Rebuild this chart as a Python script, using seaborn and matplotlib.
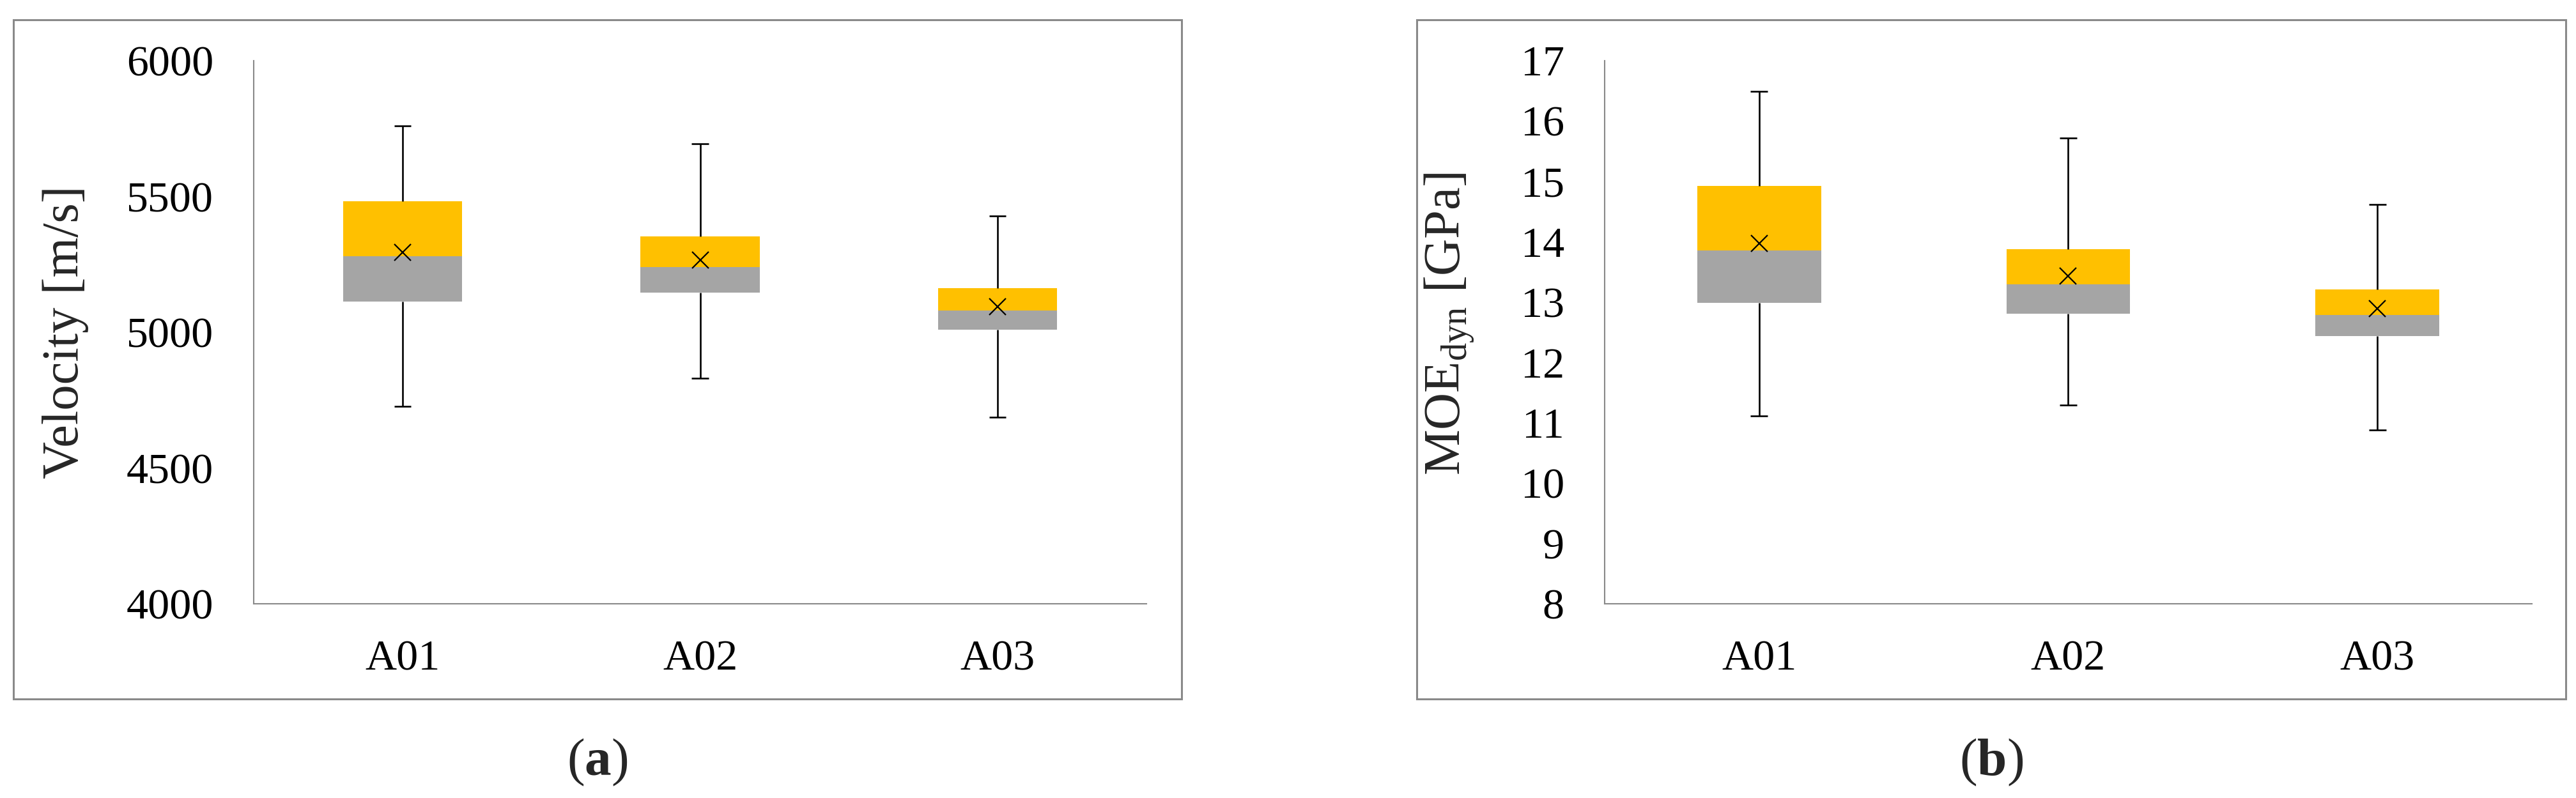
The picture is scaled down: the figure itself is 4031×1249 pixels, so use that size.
import numpy as np
import matplotlib
matplotlib.use("Agg")
import matplotlib.pyplot as plt
from matplotlib.patches import Rectangle
import seaborn as sns

# data
groups = ["A01", "A02", "A03"]

vel_min = [4727, 4830, 4686]
vel_q1 = [5113, 5147, 5010]
vel_med = [5280, 5241, 5080]
vel_q3 = [5482, 5353, 5162]
vel_max = [5760, 5694, 5428]
vel_mean = [5295, 5265, 5095]

moe_min = [11.11, 11.29, 10.88]
moe_q1 = [12.99, 12.81, 12.44]
moe_med = [13.86, 13.29, 12.79]
moe_q3 = [14.93, 13.88, 13.21]
moe_max = [16.49, 15.72, 14.62]
moe_mean = [13.97, 13.43, 12.89]

gold = "#FFC000"
grey = "#A5A5A5"
axis_grey = "#898989"

sns.set_style("white")
plt.rcParams["font.family"] = ["Liberation Serif", "DejaVu Serif"]
plt.rcParams["mathtext.fontset"] = "custom"
plt.rcParams["mathtext.rm"] = "Liberation Serif"
plt.rcParams["mathtext.it"] = "Liberation Serif:italic"
plt.rcParams["mathtext.bf"] = "Liberation Serif:bold"

fig = plt.figure(figsize=(40.31, 12.49), dpi=100)
fig.patch.set_facecolor("white")

# outer chart-area frames (Excel style)
for x0, w in [(0.00521, 0.45349), (0.55, 0.44604)]:
    fig.add_artist(Rectangle((x0, 0.1241), w, 0.85108, transform=fig.transFigure,
                             fill=False, edgecolor=axis_grey, linewidth=2.2))

ax_a = fig.add_axes([0.09849, 0.24339, 0.34657, 0.68055])
ax_b = fig.add_axes([0.62292, 0.24339, 0.35996, 0.68055])


def box_panel(ax, lo, q1, med, q3, hi, mean):
    q1 = np.array(q1); med = np.array(med); q3 = np.array(q3)
    # lower part of box (Q1 -> median) and upper part (median -> Q3)
    sns.barplot(x=groups, y=med - q1, bottom=q1, color=grey, saturation=1,
                width=0.4, errorbar=None, linewidth=0, ax=ax)
    sns.barplot(x=groups, y=q3 - med, bottom=med, color=gold, saturation=1,
                width=0.4, errorbar=None, linewidth=0, ax=ax)
    pos = np.arange(len(groups))
    ax.vlines(pos, q3, hi, color="black", linewidth=1.9)
    ax.vlines(pos, lo, q1, color="black", linewidth=1.9)
    ax.hlines(hi, pos - 0.028, pos + 0.028, color="black", linewidth=1.9)
    ax.hlines(lo, pos - 0.028, pos + 0.028, color="black", linewidth=1.9)
    sns.pointplot(x=groups, y=mean, linestyle="none", markers="x", color="black",
                  errorbar=None, markersize=19, markeredgewidth=1.6, ax=ax)

    ax.set_xlim(-0.5, 2.5)
    ax.set_xticks(pos)
    ax.set_xticklabels(groups)
    ax.set_xticks([-0.5, 0.5, 1.5, 2.5], minor=True)
    ax.tick_params(axis="x", which="major", length=0, pad=41, labelsize=49,
                   labelcolor="black")
    ax.tick_params(axis="x", which="minor", length=14.4, width=1.5,
                   color=axis_grey, direction="out")
    ax.tick_params(axis="y", which="major", length=14.4, width=1.5,
                   color=axis_grey, direction="out", pad=31, labelsize=49,
                   labelcolor="black")
    ax.set_xlabel("")
    for s in ["top", "right"]:
        ax.spines[s].set_visible(False)
    for s in ["left", "bottom"]:
        ax.spines[s].set_color(axis_grey)
        ax.spines[s].set_linewidth(1.5)
    ax.set_facecolor("white")


box_panel(ax_a, vel_min, vel_q1, vel_med, vel_q3, vel_max, vel_mean)
ax_a.set_ylim(4000, 6000)
ax_a.set_yticks(np.arange(4000, 6001, 500))
ax_a.set_ylabel("Velocity [m/s]", fontsize=58)
ax_a.yaxis.set_label_coords(-0.185, 0.5)

box_panel(ax_b, moe_min, moe_q1, moe_med, moe_q3, moe_max, moe_mean)
ax_b.set_ylim(8, 17)
ax_b.set_yticks(np.arange(8, 18, 1))
ax_b.set_ylabel(r"MOE$_{\mathrm{dyn}}$ [GPa]", fontsize=58)
ax_b.yaxis.set_label_coords(-0.1385, 0.515)

fig.text(0.232, 0.0448, r"($\mathbf{a}$)", ha="center", va="center", fontsize=60)
fig.text(0.773, 0.0448, r"($\mathbf{b}$)", ha="center", va="center", fontsize=60)

fig.savefig("out.png", dpi=100, facecolor="white")
